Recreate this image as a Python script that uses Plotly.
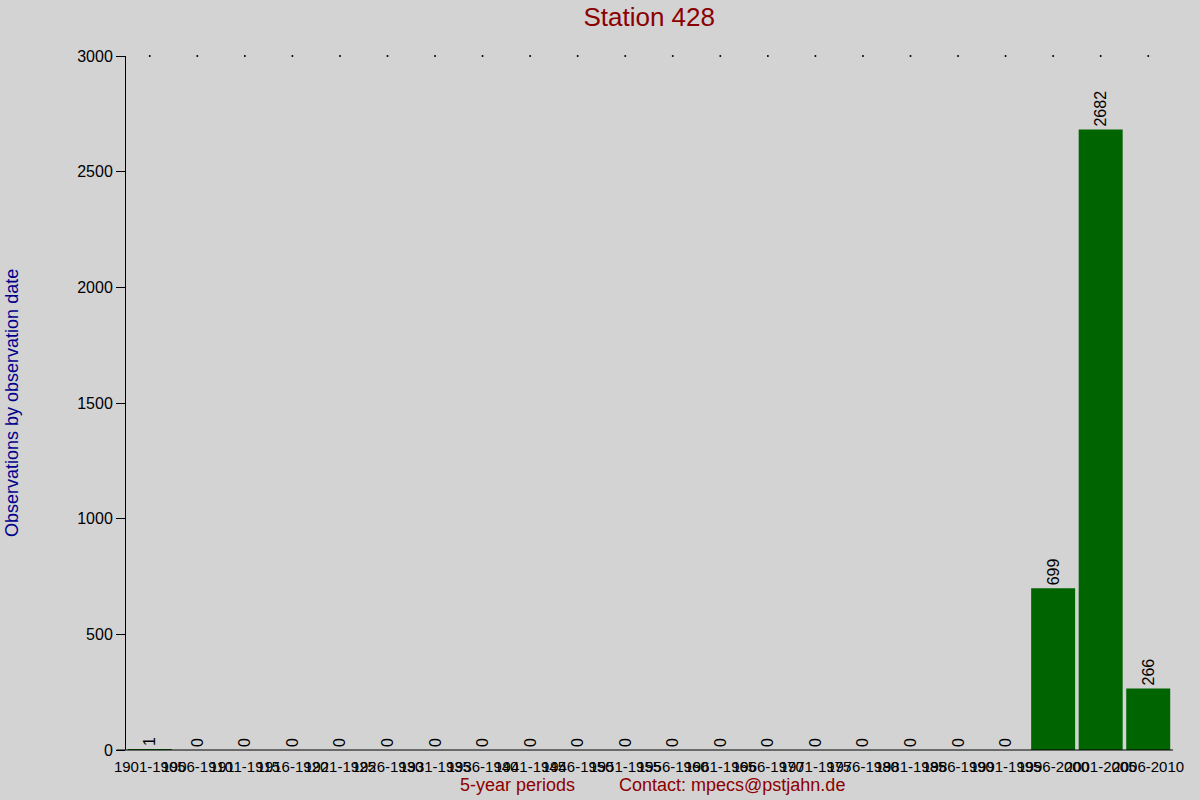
import plotly.graph_objects as go

# 5-year periods and observation counts
periods = [f"{y}-{y + 4}" for y in range(1901, 2007, 5)]
counts = [1, 0, 0, 0, 0, 0, 0, 0, 0, 0, 0, 0, 0, 0, 0, 0, 0, 0, 0, 699, 2682, 266]
y_ticks = [0, 500, 1000, 1500, 2000, 2500, 3000]

station = "Station 428"
y_max = 3000

fig = go.Figure()
fig.add_trace(go.Bar(
    x=periods,
    y=counts,
    marker=dict(color="#006400", line=dict(width=0)),
    text=[str(c) for c in counts],
    textposition="outside",
    textangle=-90,
    textfont=dict(size=16, color="black", family="Liberation Sans, Arial"),
    cliponaxis=False,
))
# little dots along the top edge, one per period
fig.add_trace(go.Scatter(
    x=periods,
    y=[y_max] * len(periods),
    mode="markers",
    marker=dict(size=2, color="black"),
    hoverinfo="skip",
    cliponaxis=False,
))

fig.update_layout(
    width=1200, height=800,
    paper_bgcolor="#d3d3d3", plot_bgcolor="#d3d3d3",
    font=dict(family="Liberation Sans, Arial", size=16, color="black"),
    showlegend=False,
    bargap=0.075,
    margin=dict(l=126, r=28, t=56, b=50),
    title=dict(text=station, x=0.541, xanchor="center", y=0.979, yanchor="middle",
               font=dict(size=26, color="#8b0000")),
)
fig.update_xaxes(
    type="category", tickmode="array", tickvals=periods, ticktext=periods,
    range=[-0.5, len(periods) - 0.5],
    tickangle=0, ticks="outside", ticklen=3, tickcolor="rgba(0,0,0,0)",
    showgrid=False, zeroline=False, showline=False,
    tickfont=dict(size=15, color="black"),
)
fig.update_yaxes(
    range=[0, y_max], tickmode="array", tickvals=y_ticks,
    ticks="outside", ticklen=9, tickcolor="black",
    showline=True, linecolor="black", linewidth=1,
    showgrid=False, zeroline=False,
    tickfont=dict(size=16, color="black"),
)

# x axis baseline extends a bit past the y axis
fig.add_shape(type="line", xref="paper", yref="paper",
              x0=-0.009, x1=1.001, y0=0, y1=0, line=dict(color="black", width=1))

fig.add_annotation(text="Observations by observation date", xref="paper", yref="paper",
                   x=-0.109, y=0.5, xanchor="center", yanchor="middle", textangle=-90,
                   showarrow=False, font=dict(size=18, color="#00008b"))
fig.add_annotation(text="5-year periods", xref="paper", yref="paper",
                   x=(517 - 126) / 1046, y=-0.05, xanchor="center", yanchor="middle",
                   showarrow=False, font=dict(size=18, color="#8b0000"))
fig.add_annotation(text="Contact: mpecs@pstjahn.de", xref="paper", yref="paper",
                   x=(732 - 126) / 1046, y=-0.05, xanchor="center", yanchor="middle",
                   showarrow=False, font=dict(size=18, color="#8b0000"))

fig.write_html("out.html", config={"displayModeBar": False},
               post_script="document.body.style.margin = '0';")
